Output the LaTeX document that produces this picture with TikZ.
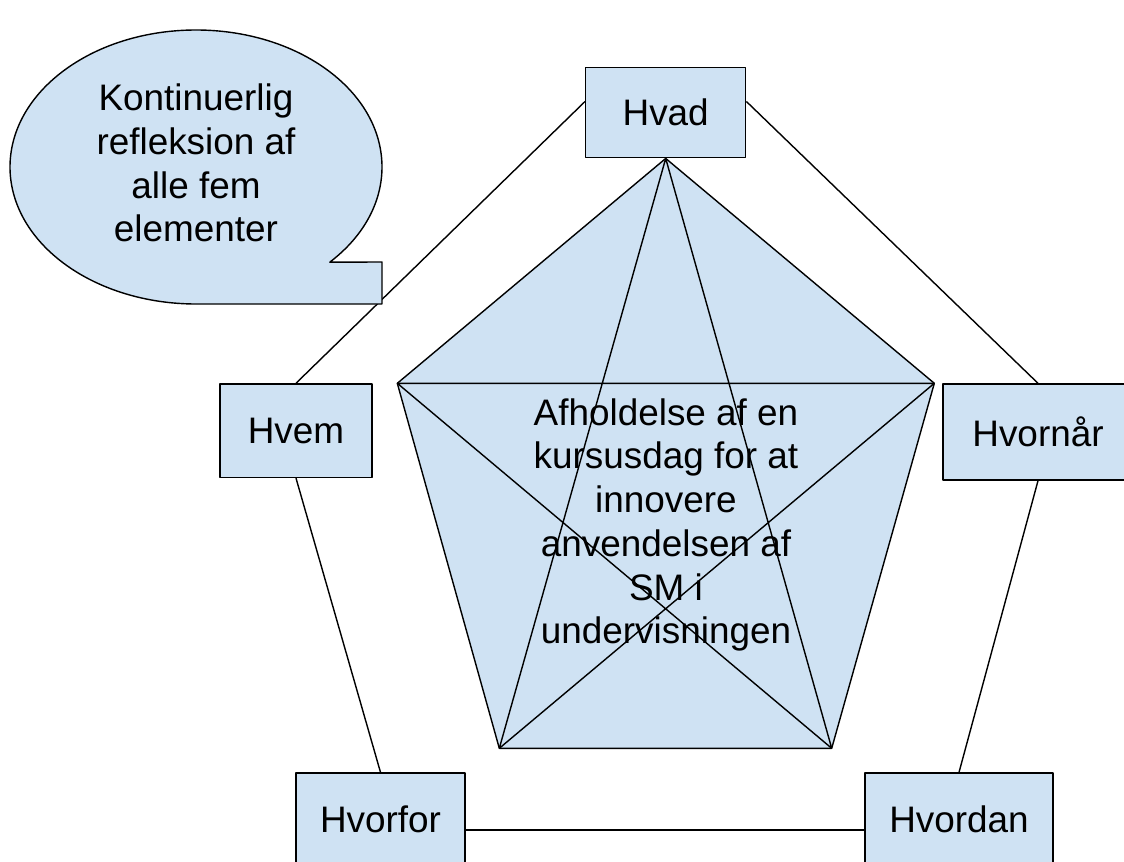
\documentclass[tikz,border=0pt]{standalone}
\usepackage{fontspec}
\setmainfont{Liberation Sans}
\usetikzlibrary{calc}
\definecolor{lysblaa}{HTML}{CFE2F3}
\begin{document}
\begin{tikzpicture}[x=0.02cm, y=0.02cm, line join=round, line width=0.8pt,
 boks/.style={draw, fill=lysblaa, inner sep=0pt, font=\fontsize{21pt}{24.9pt}\selectfont},
 tekst/.style={align=center, inner sep=0pt, font=\fontsize{21pt}{24.9pt}\selectfont}]
 \useasboundingbox (0,0) rectangle (1124,-861);
 \clip (0,0) rectangle (1124,-861);
 % de fem felter
 \node[boks, minimum width=3.2cm, minimum height=1.81cm] (hvad) at (665.7,-112.5) {Hvad};
 \node[boks, minimum width=3.04cm, minimum height=1.87cm] (hvem) at (296,-430.7) {Hvem};
 \node[boks, minimum width=3.8cm, minimum height=1.92cm] (hvornaar) at (1038,-432) {Hvornår};
 \node[boks, minimum width=3.38cm, minimum height=1.84cm] (hvorfor) at (380.5,-819) {Hvorfor};
 \node[boks, minimum width=3.76cm, minimum height=1.84cm] (hvordan) at (959,-819) {Hvordan};
 \draw ($(hvad.west)+(0,11)$) -- (hvem.north);
 \draw ($(hvad.east)+(0,11)$) -- (hvornaar.north);
 \draw (hvem.south) -- (hvorfor.north);
 \draw (hvornaar.south) -- (hvordan.north);
 \draw ($(hvorfor.east)+(0,-11)$) -- ($(hvordan.west)+(0,-11)$);
 % femkant med stjerne
 \coordinate (v) at (397.3,-383.3);
 \coordinate (h) at (934.3,-383.3);
 \coordinate (nv) at (499.3,-748.3);
 \coordinate (nh) at (831.7,-748.3);
 \filldraw[fill=lysblaa] (hvad.south) -- (h) -- (nh) -- (nv) -- (v) -- cycle;
 \draw (hvad.south) -- (nv) (hvad.south) -- (nh) (v) -- (h) (v) -- (nh) (h) -- (nv);
 \node[tekst] (emne) at (666,-525) {Afholdelse af en\\kursusdag for at\\innovere\\anvendelsen af\\SM i\\undervisningen};
 % taleboble
 \filldraw[fill=lysblaa] (196,-167) ++(-44:186 and 137) arc[start angle=-44, end angle=270, x radius=186, y radius=137] -- (382,-304) -- (382,-262) -- cycle;
 \node[tekst] (refleksion) at (196,-163) {Kontinuerlig\\refleksion af\\alle fem\\elementer};
\end{tikzpicture}
\end{document}
